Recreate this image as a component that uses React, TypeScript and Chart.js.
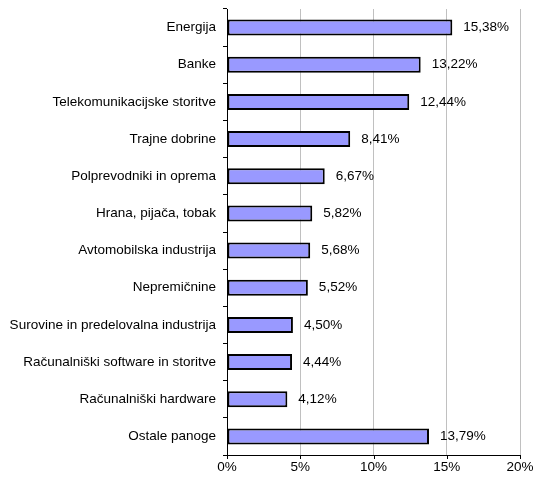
import React, { useEffect, useRef } from "react";
import { Chart, registerables } from "chart.js";

Chart.register(...registerables);

const categories = [
  "Energija",
  "Banke",
  "Telekomunikacijske storitve",
  "Trajne dobrine",
  "Polprevodniki in oprema",
  "Hrana, pijača, tobak",
  "Avtomobilska industrija",
  "Nepremičnine",
  "Surovine in predelovalna industrija",
  "Računalniški software in storitve",
  "Računalniški hardware",
  "Ostale panoge",
];

const values = [15.38, 13.22, 12.44, 8.41, 6.67, 5.82, 5.68, 5.52, 4.5, 4.44, 4.12, 13.79];

const xTicks = [0, 5, 10, 15, 20];

const FONT = "'Liberation Sans', Arial, sans-serif";
const FSIZE = 13.5;

const fmt = (v: number) => v.toFixed(2).replace(".", ",") + "%";

const valueLabels = {
  id: "valueLabels",
  afterDatasetsDraw(chart: any) {
    const ctx = chart.ctx;
    const meta = chart.getDatasetMeta(0);
    ctx.save();
    ctx.font = `${FSIZE}px ${FONT}`;
    ctx.fillStyle = "#000";
    ctx.textAlign = "left";
    ctx.textBaseline = "middle";
    meta.data.forEach((bar: any, i: number) => {
      ctx.fillText(fmt(values[i]), bar.x + 11, bar.y);
    });
    ctx.restore();
  },
};

const xTickMarks = {
  id: "xTickMarks",
  afterDraw(chart: any) {
    const ctx = chart.ctx;
    const xs = chart.scales.x;
    const bottom = chart.chartArea.bottom;
    ctx.save();
    ctx.strokeStyle = "#000";
    ctx.lineWidth = 1;
    xTicks.forEach((t) => {
      const px = Math.round(xs.getPixelForValue(t)) + 0.5;
      ctx.beginPath();
      ctx.moveTo(px, bottom);
      ctx.lineTo(px, bottom + 4);
      ctx.stroke();
    });
    ctx.restore();
  },
};

export default function App() {
  const ref = useRef<HTMLCanvasElement | null>(null);
  useEffect(() => {
    document.body.style.margin = "0";
    const chart = new Chart(ref.current as HTMLCanvasElement, {
      type: "bar",
      data: {
        labels: categories,
        datasets: [
          {
            data: values,
            backgroundColor: "#9999FF",
            borderColor: "#000000",
            borderWidth: 2,
            borderSkipped: false,
            categoryPercentage: 1,
            barPercentage: 0.43,
          },
        ],
      },
      options: {
        indexAxis: "y",
        animation: false,
        responsive: false,
        maintainAspectRatio: false,
        layout: { padding: { left: 0, right: 14, top: 9, bottom: 0 } },
        plugins: {
          legend: { display: false },
          tooltip: { enabled: false },
        },
        scales: {
          x: {
            min: 0,
            max: 20,
            afterBuildTicks: (s: any) => {
              s.ticks = xTicks.map((v) => ({ value: v }));
            },
            afterFit: (s: any) => {
              s.height = 25;
              s.paddingLeft = 0;
              s.paddingRight = 0;
              s.paddingTop = 0;
              s.paddingBottom = 0;
            },
            ticks: {
              callback: (v: any) => v + "%",
              color: "#000",
              font: { family: FONT, size: FSIZE },
              padding: 4,
              maxRotation: 0,
            },
            grid: {
              color: (c: any) => (c.tick && c.tick.value === 0 ? "rgba(0,0,0,0)" : "#C0C0C0"),
              drawTicks: false,
            },
            border: { display: true, color: "#000" },
          },
          y: {
            afterFit: (s: any) => {
              s.width = 227;
              s.paddingLeft = 0;
              s.paddingRight = 0;
              s.paddingTop = 0;
              s.paddingBottom = 0;
            },
            ticks: {
              color: "#000",
              font: { family: FONT, size: FSIZE },
              padding: 7,
            },
            grid: {
              offset: true,
              drawOnChartArea: false,
              drawTicks: true,
              tickLength: 4,
              color: "#000",
            },
            border: { display: true, color: "#000" },
          },
        },
      },
      plugins: [valueLabels, xTickMarks],
    } as any);
    return () => chart.destroy();
  }, []);
  return (
    <div style={{ position: "absolute", left: 0, top: 0, width: 534, height: 480 }}>
      <canvas ref={ref} width={534} height={480} style={{ width: 534, height: 480, display: "block" }} />
    </div>
  );
}
